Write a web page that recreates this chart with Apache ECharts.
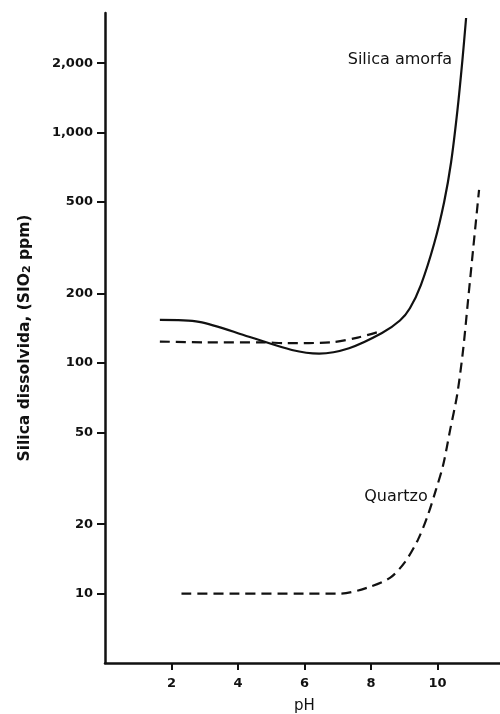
<!DOCTYPE html>
<html>
<head>
<meta charset="utf-8">
<script src="https://cdn.jsdelivr.net/npm/echarts@6/dist/echarts.min.js"></script>
<style>html,body{margin:0;padding:0;background:#fff}#c{width:500px;height:714px}</style>
</head>
<body>
<div id="c"></div>
<script>
// pH values and dissolved silica (ppm SiO2)
const amorfaPH   = [1.65, 2.83, 4.33, 5.62, 6.44, 7.34, 8.33, 8.87, 9.17, 9.5, 9.9, 10.2, 10.41, 10.6, 10.75, 10.86];
const amorfaPPM  = [154, 151, 130, 114, 110, 116, 135, 153, 173, 218, 330, 500, 745, 1250, 2065, 3140];
const amorfa2PH  = [1.65, 3.0, 4.7, 5.47, 6.8, 7.6, 8.18];
const amorfa2PPM = [124, 123, 123, 122, 123, 129, 136];
const quartzPH   = [2.3, 4.0, 6.0, 7.07, 7.88, 8.57, 9.02, 9.41, 9.71, 9.95, 10.17, 10.38, 10.59, 10.77, 10.92, 11.07, 11.25];
const quartzPPM  = [10, 10, 10, 10, 10.6, 11.7, 13.7, 17.1, 21.9, 28.1, 36.1, 51.3, 72.7, 114, 188, 310, 564];
const yTicks = [10, 20, 50, 100, 200, 500, 1000, 2000];
const yTickLabels = ['10', '20', '50', '100', '200', '500', '1,000', '2,000'];
const xTicks = [2, 4, 6, 8, 10];

const zip = (a, b) => a.map((v, i) => [v, b[i]]);
const ink = '#111';
const chart = echarts.init(document.getElementById('c'));
chart.setOption({
  animation: false,
  backgroundColor: '#fff',
  grid: { left: 105, right: -4, top: 13, bottom: 51, outerBoundsMode: 'none', containLabel: false },
  xAxis: {
    type: 'value', min: 0, max: 12,
    name: 'pH', nameLocation: 'middle', nameGap: 36,
    nameTextStyle: { color: ink, fontFamily: 'DejaVu Sans', fontSize: 15 },
    axisLine: { lineStyle: { color: ink, width: 2.5 } },
    axisTick: { show: true, length: 7, inside: false, customValues: xTicks, lineStyle: { color: ink, width: 2 } },
    axisLabel: { customValues: xTicks, color: ink, fontFamily: 'DejaVu Sans', fontWeight: 'bold', fontSize: 13, margin: 14 },
    splitLine: { show: false }
  },
  yAxis: {
    type: 'log', logBase: 10, min: 5, max: 3300,
    name: '{a|Silica dissolvida, (SIO}{s|2}{a| ppm)}', nameLocation: 'middle', nameGap: 72, nameRotate: 90,
    nameTextStyle: {
      rich: {
        a: { color: ink, fontFamily: 'DejaVu Sans', fontWeight: 'bold', fontSize: 15.5 },
        s: { color: ink, fontFamily: 'DejaVu Sans', fontWeight: 'bold', fontSize: 11, padding: [6, 0, 0, 0] }
      }
    },
    axisLine: { show: true, lineStyle: { color: ink, width: 2.5 } },
    axisTick: { show: true, length: 8, customValues: yTicks, lineStyle: { color: ink, width: 2 } },
    axisLabel: {
      customValues: yTicks, color: ink, fontFamily: 'DejaVu Sans', fontWeight: 'bold', fontSize: 13, margin: 12,
      formatter: v => { const i = yTicks.indexOf(Math.round(v)); return i >= 0 ? yTickLabels[i] : ''; }
    },
    minorTick: { show: false },
    splitLine: { show: false }
  },
  series: [
    {
      type: 'line', data: zip(amorfaPH, amorfaPPM), smooth: 0.3, symbol: 'none',
      lineStyle: { color: ink, width: 2.2 },
      markPoint: {
        symbol: 'circle', symbolSize: 0,
        data: [{ coord: [8.87, 2065], value: 'Silica amorfa' }],
        label: { show: true, position: 'inside', formatter: 'Silica amorfa', color: ink, fontFamily: 'DejaVu Sans', fontSize: 16 }
      }
    },
    {
      type: 'line', data: zip(amorfa2PH, amorfa2PPM), smooth: 0.3, symbol: 'none',
      lineStyle: { color: ink, width: 2.2, type: [10, 6] }
    },
    {
      type: 'line', data: zip(quartzPH, quartzPPM), smooth: 0.3, symbol: 'none',
      lineStyle: { color: ink, width: 2.2, type: [10, 6] },
      markPoint: {
        symbol: 'circle', symbolSize: 0,
        data: [{ coord: [8.75, 26.2], value: 'Quartzo' }],
        label: { show: true, position: 'inside', formatter: 'Quartzo', color: ink, fontFamily: 'DejaVu Sans', fontSize: 16 }
      }
    }
  ]
});
</script>
</body>
</html>
